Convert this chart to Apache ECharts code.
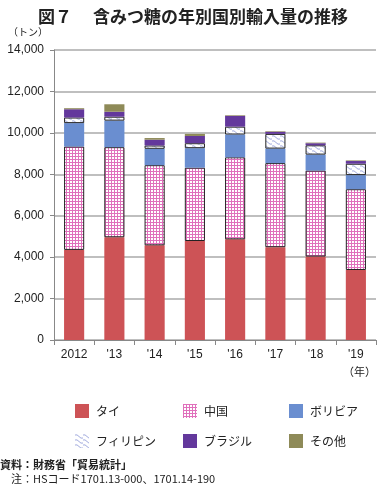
<!DOCTYPE html>
<html><head><meta charset="utf-8">
<script src="https://cdn.jsdelivr.net/npm/echarts@6/dist/echarts.min.js"></script>
<style>html,body{margin:0;padding:0;background:#fff}#c{width:386px;height:486px}</style>
</head><body><div id="c"></div>
<script>
const categories = ['2012', "'13", "'14", "'15", "'16", "'17", "'18", "'19"];
const thai       = [4350, 4960, 4570, 4780, 4860, 4480, 4030, 3380];
const china      = [4990, 4350, 3870, 3540, 3960, 4060, 4150, 3900];
const bolivia    = [1130, 1280, 790, 940, 1100, 700, 770, 680];
const philippines= [270, 190, 160, 240, 380, 710, 450, 550];
const brazil     = [400, 240, 280, 350, 520, 100, 100, 130];
const other      = [50, 360, 80, 100, 30, 30, 30, 30];
const seriesNames = ['タイ', '中国', 'ボリビア', 'フィリピン', 'ブラジル', 'その他'];
const yTicks = [0, 2000, 4000, 6000, 8000, 10000, 12000, 14000];

function gridPattern() {
  const c = document.createElement('canvas'); c.width = 3; c.height = 3;
  const g = c.getContext('2d');
  g.fillStyle = '#ffffff'; g.fillRect(0, 0, 3, 3);
  g.fillStyle = '#e070bc'; g.fillRect(0, 0, 3, 1); g.fillRect(0, 0, 1, 3);
  return c;
}
function wavePattern() {
  const c = document.createElement('canvas'); c.width = 8; c.height = 5;
  const g = c.getContext('2d');
  g.fillStyle = '#ffffff'; g.fillRect(0, 0, 8, 5);
  g.strokeStyle = '#8a95d6'; g.lineWidth = 0.8;
  g.beginPath(); g.moveTo(0, 1); g.quadraticCurveTo(2, 0, 4, 2.5); g.quadraticCurveTo(6, 5, 8, 4); g.stroke();
  return c;
}
const chinaFill = { image: gridPattern(), repeat: 'repeat' };
const philFill = { image: wavePattern(), repeat: 'repeat' };

const colors = ['#cd5356', chinaFill, '#6a8ed0', philFill, '#63389c', '#8e8a58'];
const borders = [null, '#222', null, '#222', null, null];
const dataArr = [thai, china, bolivia, philippines, brazil, other];

const chart = echarts.init(document.getElementById('c'));
const font = '"Noto Sans CJK JP", "Liberation Sans", sans-serif';
const numFont = '"Liberation Sans", Arial, sans-serif';

const legendPos = [[70, 399], [178, 399], [284, 399], [70, 429], [178, 429], [284, 429]];
const legends = seriesNames.map((n, i) => ({
  data: [n], left: legendPos[i][0], top: legendPos[i][1],
  icon: 'rect', itemWidth: 14, itemHeight: 14, itemGap: 0,
  itemStyle: { borderWidth: 0 },
  textStyle: { fontFamily: font, fontSize: 12, color: '#222', padding: [0, 0, 0, 2] },
  selectedMode: false
}));

chart.setOption({
  animation: false,
  title: {
    text: '図７　 含みつ糖の年別国別輸入量の推移', left: 'center', top: 3,
    textStyle: { fontFamily: font, fontSize: 17, fontWeight: 'bold', color: '#222' }
  },
  legend: legends,
  grid: { left: 54, right: 10, top: 50, bottom: 146 },
  xAxis: {
    type: 'category', data: categories,
    axisLine: { lineStyle: { color: '#888', width: 1 } },
    axisTick: { show: true, alignWithLabel: false, length: 5, lineStyle: { color: '#888' } },
    axisLabel: { fontFamily: numFont, fontSize: 12, color: '#222', margin: 9 }
  },
  yAxis: {
    type: 'value', min: 0, max: 14000, interval: 2000,
    axisLine: { show: true, lineStyle: { color: '#888' } },
    axisTick: { show: true, length: 4, lineStyle: { color: '#888' } },
    splitLine: { lineStyle: { color: '#aaa', width: 1.5 } },
    axisLabel: {
      fontFamily: numFont, fontSize: 12, color: '#222', margin: 10,
      formatter: v => yTicks.includes(v) ? v.toLocaleString('en-US') : ''
    }
  },
  graphic: [
    { type: 'text', left: 8, top: 27, style: { text: '（トン）', font: '10px ' + font, fill: '#222' } },
    { type: 'text', left: 343, top: 366, style: { text: '（年）', font: '11px ' + font, fill: '#222' } },
    { type: 'text', left: 0, top: 459, style: { text: '資料：財務省「貿易統計」', font: 'bold 11px ' + font, fill: '#222' } },
    { type: 'text', left: 11, top: 473, style: { text: '注：HSコード1701.13-000、1701.14-190', font: '11px ' + font, fill: '#222' } }
  ],
  series: seriesNames.map((n, i) => ({
    name: n, type: 'bar', stack: 'total', data: dataArr[i], barWidth: '50%',
    itemStyle: { color: colors[i], borderColor: borders[i] || undefined, borderWidth: borders[i] ? 1 : 0 }
  }))
});
</script></body></html>
